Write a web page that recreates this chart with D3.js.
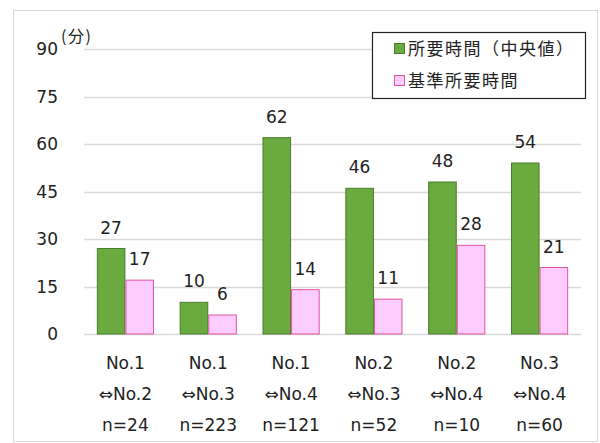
<!DOCTYPE html>
<html>
<head>
<meta charset="utf-8">
<script src="https://cdn.jsdelivr.net/npm/d3@7"></script>
<style>
  body { margin: 0; background: #fff; }
  svg text { font-family: "DejaVu Sans", Verdana, sans-serif; fill: #222; }
  .jp { font-family: "Noto Sans CJK JP", sans-serif; }
</style>
</head>
<body>
<div id="chart"></div>
<script>
const routes = ['No.1\n⇔No.2', 'No.1\n⇔No.3', 'No.1\n⇔No.4', 'No.2\n⇔No.3', 'No.2\n⇔No.4', 'No.3\n⇔No.4'];
const counts = ['n=24', 'n=223', 'n=121', 'n=52', 'n=10', 'n=60'];
const medianTime = [27, 10, 62, 46, 48, 54];
const standardTime = [17, 6, 14, 11, 28, 21];
const seriesNames = ['所要時間（中央値）', '基準所要時間'];
const yTicks = [0, 15, 30, 45, 60, 75, 90];

const options = { width: 600, height: 443 };
const margin = { top: 49, right: 19, bottom: 109, left: 84 };
const colors = [
  { fill: '#6aaa3e', stroke: '#4b7d2c' },
  { fill: '#ffccff', stroke: '#e0559e' },
];

const svg = d3.select('#chart')
  .append('svg')
  .attr('width', options.width)
  .attr('height', options.height);

// outer frame
svg.append('rect')
  .attr('x', 13.5).attr('y', 10.5)
  .attr('width', 584).attr('height', 431)
  .attr('fill', '#fff')
  .attr('stroke', '#d9d9d9');

const x0 = d3.scaleBand()
  .domain(d3.range(routes.length))
  .range([margin.left, options.width - margin.right])
  .paddingInner(0.31)
  .paddingOuter(0.155);

const x1 = d3.scaleBand()
  .domain([0, 1])
  .range([0, x0.bandwidth()]);

const y = d3.scaleLinear()
  .domain([0, 90])
  .range([options.height - margin.bottom, margin.top]);

// grid
svg.append('g')
  .selectAll('line')
  .data(yTicks)
  .join('line')
  .attr('x1', margin.left)
  .attr('x2', options.width - margin.right)
  .attr('y1', d => Math.round(y(d)) + 0.5)
  .attr('y2', d => Math.round(y(d)) + 0.5)
  .attr('stroke', '#d9d9d9')
  .attr('stroke-width', 1.5);

// y axis labels
svg.append('g')
  .selectAll('text')
  .data(yTicks)
  .join('text')
  .attr('x', 58)
  .attr('y', d => y(d))
  .attr('dy', '0.36em')
  .attr('text-anchor', 'end')
  .attr('font-size', 17)
  .text(d => d);

svg.append('text')
  .attr('class', 'jp')
  .attr('x', 61)
  .attr('y', 42)
  .attr('font-size', 16)
  .attr('letter-spacing', 1.5)
  .text('(分)');

const series = [medianTime, standardTime];

const groups = svg.append('g')
  .selectAll('g')
  .data(routes)
  .join('g')
  .attr('transform', (d, i) => `translate(${x0(i)},0)`);

groups.selectAll('rect')
  .data((d, i) => series.map((s, k) => ({ k, v: s[i] })))
  .join('rect')
  .attr('x', d => x1(d.k) + 0.5)
  .attr('y', d => y(d.v))
  .attr('width', x1.bandwidth() - 1)
  .attr('height', d => y(0) - y(d.v))
  .attr('fill', d => colors[d.k].fill)
  .attr('stroke', d => colors[d.k].stroke)
  .attr('stroke-width', 1);

groups.selectAll('text.val')
  .data((d, i) => series.map((s, k) => ({ k, v: s[i] })))
  .join('text')
  .attr('class', 'val')
  .attr('x', d => x1(d.k) + x1.bandwidth() / 2)
  .attr('y', d => y(d.v) - 15)
  .attr('text-anchor', 'middle')
  .attr('font-size', 17)
  .text(d => d.v);

// category labels
groups.each(function (d, i) {
  const lines = d.split('\n').concat([counts[i]]);
  d3.select(this).selectAll('text.cat')
    .data(lines)
    .join('text')
    .attr('class', 'cat')
    .attr('x', x0.bandwidth() / 2)
    .attr('y', (l, j) => 369 + j * 31)
    .attr('text-anchor', 'middle')
    .attr('font-size', 17)
    .text(l => l);
});

// legend
const legend = svg.append('g');
legend.append('rect')
  .attr('x', 372.5).attr('y', 32.5)
  .attr('width', 213).attr('height', 66)
  .attr('fill', '#fff')
  .attr('stroke', '#222')
  .attr('stroke-width', 1.2);

seriesNames.forEach((name, k) => {
  const ly = 49 + k * 32;
  legend.append('rect')
    .attr('x', 394.5).attr('y', ly - 5.5)
    .attr('width', 10).attr('height', 10)
    .attr('fill', colors[k].fill)
    .attr('stroke', colors[k].stroke);
  legend.append('text')
    .attr('class', 'jp')
    .attr('x', 408)
    .attr('y', ly)
    .attr('dy', '0.36em')
    .attr('font-size', 17)
    .attr('letter-spacing', 1.5)
    .text(name);
});
</script>
</body>
</html>
